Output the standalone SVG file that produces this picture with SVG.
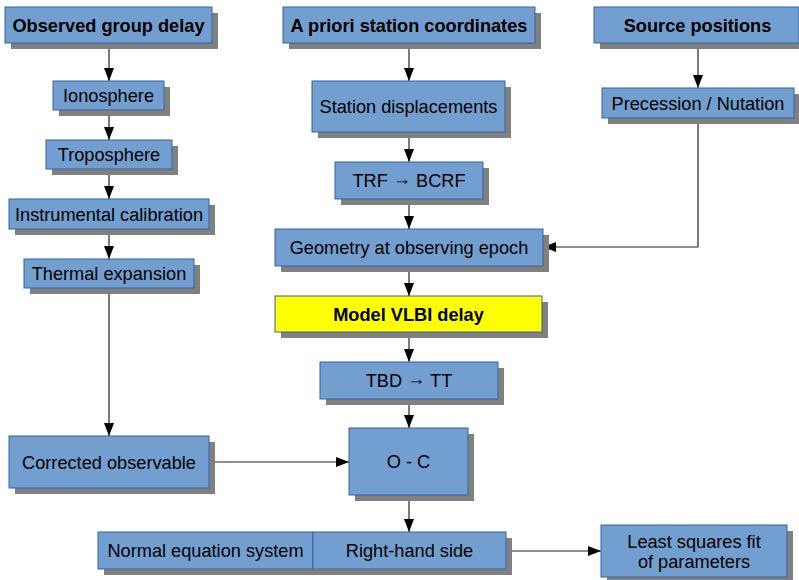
<svg xmlns="http://www.w3.org/2000/svg" width="799" height="580" viewBox="0 0 799 580">
<style>
.sh{fill:#808080}
.bx{fill:#729fcf;stroke:#3465a4;stroke-width:1}
.yl{fill:#ffff00;stroke:#3465a4;stroke-width:1}
text{font-family:"Liberation Sans",Arial,sans-serif;font-size:18.2px;fill:#000;text-anchor:middle}
.b{font-weight:bold}
.c{fill:none;stroke:#222;stroke-width:1.2}
</style>
<defs>
<marker id="ah" viewBox="0 0 13 10" refX="13" refY="5" markerWidth="13" markerHeight="10" markerUnits="userSpaceOnUse" orient="auto">
<path d="M0,0 L13,5 L0,10 Z" fill="#000"/>
</marker>
</defs>
<g id="connectors">
<path class="c" d="M109,43 V81" marker-end="url(#ah)"/>
<path class="c" d="M109,110 V140" marker-end="url(#ah)"/>
<path class="c" d="M109,169 V199" marker-end="url(#ah)"/>
<path class="c" d="M109,229 V259" marker-end="url(#ah)"/>
<path class="c" d="M109,288 V436" marker-end="url(#ah)"/>
<path class="c" d="M409,43 V81" marker-end="url(#ah)"/>
<path class="c" d="M409,132 V162" marker-end="url(#ah)"/>
<path class="c" d="M409,199 V229" marker-end="url(#ah)"/>
<path class="c" d="M409,266 V296" marker-end="url(#ah)"/>
<path class="c" d="M409,332 V362" marker-end="url(#ah)"/>
<path class="c" d="M409,399 V428" marker-end="url(#ah)"/>
<path class="c" d="M409,495 V532" marker-end="url(#ah)"/>
<path class="c" d="M698,43 V88" marker-end="url(#ah)"/>
<path class="c" d="M698,118 V247 H543" marker-end="url(#ah)"/>
<path class="c" d="M209,462 H349" marker-end="url(#ah)"/>
<path class="c" d="M506,551 H601" marker-end="url(#ah)"/>
</g>
<g id="observed">
<rect class="sh" x="11" y="13" width="207" height="36"/>
<rect class="bx" x="5" y="7" width="207" height="36"/>
<text class="b" x="108.5" y="31.5">Observed group delay</text>
</g>
<g id="ionosphere">
<rect class="sh" x="59" y="87" width="111" height="29"/>
<rect class="bx" x="53" y="81" width="111" height="29"/>
<text x="108.5" y="102">Ionosphere</text>
</g>
<g id="troposphere">
<rect class="sh" x="52" y="146" width="126" height="29"/>
<rect class="bx" x="46" y="140" width="126" height="29"/>
<text x="109" y="161">Troposphere</text>
</g>
<g id="instrumental">
<rect class="sh" x="15" y="205" width="200" height="30"/>
<rect class="bx" x="9" y="199" width="200" height="30"/>
<text x="109" y="220.5">Instrumental calibration</text>
</g>
<g id="thermal">
<rect class="sh" x="30" y="265" width="170" height="29"/>
<rect class="bx" x="24" y="259" width="170" height="29"/>
<text x="109" y="280">Thermal expansion</text>
</g>
<g id="corrected">
<rect class="sh" x="15" y="442" width="200" height="52"/>
<rect class="bx" x="9" y="436" width="200" height="52"/>
<text x="109" y="468.5">Corrected observable</text>
</g>
<g id="apriori">
<rect class="sh" x="289" y="13" width="252" height="36"/>
<rect class="bx" x="283" y="7" width="252" height="36"/>
<text class="b" x="409" y="31.5">A priori station coordinates</text>
</g>
<g id="station">
<rect class="sh" x="318" y="87" width="193" height="51"/>
<rect class="bx" x="312" y="81" width="193" height="51"/>
<text x="408.5" y="113">Station displacements</text>
</g>
<g id="trf">
<rect class="sh" x="341" y="168" width="148" height="37"/>
<rect class="bx" x="335" y="162" width="148" height="37"/>
<text x="409" y="187">TRF <tspan dy="-2.5">→</tspan><tspan dy="2.5"> BCRF</tspan></text>
</g>
<g id="geometry">
<rect class="sh" x="281" y="235" width="268" height="37"/>
<rect class="bx" x="275" y="229" width="268" height="37"/>
<text x="409" y="254">Geometry at observing epoch</text>
</g>
<g id="model">
<rect class="sh" x="281" y="302" width="267" height="36"/>
<rect class="yl" x="275" y="296" width="267" height="36"/>
<text class="b" x="408.5" y="320.5">Model VLBI delay</text>
</g>
<g id="tbd">
<rect class="sh" x="326" y="368" width="178" height="37"/>
<rect class="bx" x="320" y="362" width="178" height="37"/>
<text x="409" y="387">TBD <tspan dy="-2.5">→</tspan><tspan dy="2.5"> TT</tspan></text>
</g>
<g id="oc">
<rect class="sh" x="355" y="434" width="119" height="67"/>
<rect class="bx" x="349" y="428" width="119" height="67"/>
<text x="408.5" y="468">O - C</text>
</g>
<g id="source">
<rect class="sh" x="600" y="13" width="205" height="36"/>
<rect class="bx" x="594" y="7" width="205" height="36"/>
<text class="b" x="697.5" y="31.5">Source positions</text>
</g>
<g id="precession">
<rect class="sh" x="608" y="94" width="192" height="30"/>
<rect class="bx" x="602" y="88" width="192" height="30"/>
<text x="698" y="109.5">Precession / Nutation</text>
</g>
<g id="normal">
<rect class="sh" x="104" y="538" width="408" height="37"/>
<rect class="bx" x="98" y="532" width="215" height="37"/>
<text x="205.5" y="557">Normal equation system</text>
</g>
<g id="rhs">
<rect class="bx" x="313" y="532" width="193" height="37"/>
<text x="409.5" y="557">Right-hand side</text>
</g>
<g id="lsq">
<rect class="sh" x="607" y="531" width="186" height="52"/>
<rect class="bx" x="601" y="525" width="186" height="52"/>
<text x="694" y="548">Least squares fit</text>
<text x="694" y="568">of parameters</text>
</g>
</svg>
